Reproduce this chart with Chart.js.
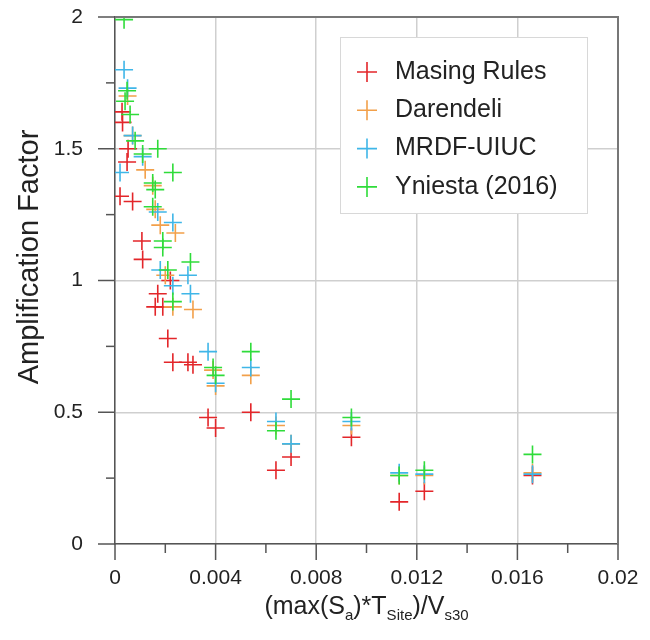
<!DOCTYPE html>
<html>
<head>
    <title>Amplification Factor</title>
    <script src="https://cdn.jsdelivr.net/npm/chart.js"></script>
    <style>
        body { margin: 0; background: #fff; }
        #wrap { width: 650px; height: 640px; }
    </style>
</head>
<body>
<div id="wrap"><canvas id="ampChart"></canvas></div>
<script>
    // series
    const seriesNames = ['Masing Rules', 'Darendeli', 'MRDF-UIUC', 'Yniesta (2016)'];
    const seriesColors = ['#e3262a', '#f2a04a', '#3fb6e8', '#2fdc3a'];

    const masingX = [0.00028, 0.0003, 0.00052, 0.00048, 0.0002, 0.0007, 0.00107, 0.0011, 0.0022, 0.0017, 0.0016, 0.0019, 0.0021, 0.0023, 0.0029, 0.0031, 0.0037, 0.0040, 0.0054, 0.0064, 0.0070, 0.0094, 0.0113, 0.0123, 0.0166];
    const masingY = [1.64, 1.60, 1.50, 1.45, 1.32, 1.30, 1.15, 1.08, 1.00, 0.95, 0.90, 0.90, 0.78, 0.69, 0.69, 0.68, 0.48, 0.44, 0.50, 0.28, 0.33, 0.405, 0.16, 0.20, 0.26];

    const darendeliX = [0.0005, 0.0007, 0.0012, 0.0015, 0.0016, 0.0018, 0.0024, 0.0020, 0.0023, 0.0031, 0.0039, 0.0040, 0.0054, 0.0064, 0.0070, 0.0094, 0.0113, 0.0123, 0.0166];
    const darendeliY = [1.70, 1.55, 1.42, 1.36, 1.27, 1.21, 1.18, 1.02, 0.90, 0.89, 0.66, 0.60, 0.64, 0.45, 0.38, 0.45, 0.26, 0.26, 0.27];

    const mrdfX = [0.00036, 0.0005, 0.0002, 0.0007, 0.0011, 0.0017, 0.0023, 0.0018, 0.0023, 0.0029, 0.0030, 0.0037, 0.0040, 0.0054, 0.0064, 0.0070, 0.0094, 0.0113, 0.0123, 0.0166];
    const mrdfY = [1.80, 1.73, 1.41, 1.55, 1.47, 1.26, 1.22, 1.04, 0.98, 1.02, 0.95, 0.73, 0.61, 0.67, 0.465, 0.38, 0.465, 0.27, 0.265, 0.265];

    const yniestaX = [0.00036, 0.00048, 0.0004, 0.0006, 0.0008, 0.0017, 0.0011, 0.0023, 0.0015, 0.0016, 0.0015, 0.0019, 0.0019, 0.0030, 0.0021, 0.0023, 0.0039, 0.0040, 0.0054, 0.0064, 0.0070, 0.0094, 0.0113, 0.0123, 0.0166];
    const yniestaY = [1.99, 1.72, 1.68, 1.63, 1.53, 1.50, 1.48, 1.41, 1.37, 1.345, 1.28, 1.15, 1.125, 1.07, 1.04, 0.92, 0.67, 0.64, 0.73, 0.43, 0.55, 0.48, 0.26, 0.28, 0.34];

    const xTickLabels = ['0', '0.004', '0.008', '0.012', '0.016', '0.02'];
    const yTickLabels = ['0', '0.5', '1', '1.5', '2'];

    const FONT = "'Liberation Sans', Arial, sans-serif";

    function toPoints(xs, ys) {
        return xs.map((x, i) => ({ x: x, y: ys[i] }));
    }

    const allSeries = [
        toPoints(masingX, masingY),
        toPoints(darendeliX, darendeliY),
        toPoints(mrdfX, mrdfY),
        toPoints(yniestaX, yniestaY)
    ];

    function isMajorX(v) { return Math.abs(v / 0.004 - Math.round(v / 0.004)) < 1e-6; }
    function isMajorY(v) { return Math.abs(v / 0.5 - Math.round(v / 0.5)) < 1e-6; }

    // tick marks, frame, axis titles and legend box
    const decorations = {
        id: 'decorations',
        afterDraw(chart) {
            const ctx = chart.ctx;
            const area = chart.chartArea;
            const xs = chart.scales.x, ys = chart.scales.y;
            ctx.save();

            // tick marks outside the axes
            ctx.strokeStyle = '#555';
            ctx.lineWidth = 1.5;
            xs.ticks.forEach(t => {
                const px = xs.getPixelForValue(t.value);
                const len = isMajorX(t.value) ? 16 : 9;
                ctx.beginPath();
                ctx.moveTo(px, area.bottom);
                ctx.lineTo(px, area.bottom + len);
                ctx.stroke();
            });
            ys.ticks.forEach(t => {
                const py = ys.getPixelForValue(t.value);
                const len = isMajorY(t.value) ? 17 : 9;
                ctx.beginPath();
                ctx.moveTo(area.left, py);
                ctx.lineTo(area.left - len, py);
                ctx.stroke();
            });

            // frame top and right
            ctx.strokeStyle = '#777';
            ctx.lineWidth = 2;
            ctx.beginPath();
            ctx.moveTo(area.left, area.top);
            ctx.lineTo(area.right, area.top);
            ctx.lineTo(area.right, area.bottom);
            ctx.stroke();

            // y title
            ctx.fillStyle = '#222';
            ctx.font = '29px ' + FONT;
            ctx.textAlign = 'center';
            ctx.textBaseline = 'middle';
            ctx.save();
            ctx.translate(30, 257);
            ctx.rotate(-Math.PI / 2);
            ctx.fillText('Amplification Factor', 0, 0);
            ctx.restore();

            // x title with subscripts
            const parts = [
                ['(max(S', false], ['a', true], [')*T', false], ['Site', true], [')/V', false], ['s30', true]
            ];
            const mainFont = '25px ' + FONT, subFont = '15px ' + FONT;
            let total = 0;
            parts.forEach(p => { ctx.font = p[1] ? subFont : mainFont; total += ctx.measureText(p[0]).width; });
            let cx = (area.left + area.right) / 2 - total / 2;
            const base = 614;
            ctx.textAlign = 'left';
            ctx.textBaseline = 'alphabetic';
            parts.forEach(p => {
                ctx.font = p[1] ? subFont : mainFont;
                ctx.fillText(p[0], cx, p[1] ? base + 6 : base);
                cx += ctx.measureText(p[0]).width;
            });

            // legend
            const lx = 340, ly = 37, lw = 247, lh = 176;
            ctx.fillStyle = '#fff';
            ctx.fillRect(lx, ly, lw, lh);
            ctx.strokeStyle = '#d8d8d8';
            ctx.lineWidth = 1;
            ctx.strokeRect(lx + 0.5, ly + 0.5, lw, lh);
            chart.data.datasets.forEach((ds, i) => {
                const ry = 72 + i * 38.3;
                ctx.strokeStyle = ds.borderColor;
                ctx.lineWidth = 1.6;
                ctx.beginPath();
                ctx.moveTo(357, ry); ctx.lineTo(377, ry);
                ctx.moveTo(367, ry - 10); ctx.lineTo(367, ry + 10);
                ctx.stroke();
                ctx.fillStyle = '#222';
                ctx.font = '25px ' + FONT;
                ctx.textBaseline = 'middle';
                ctx.fillText(ds.label, 395, ry);
            });
            ctx.restore();
        }
    };

    const ctx = document.getElementById('ampChart').getContext('2d');
    const chart = new Chart(ctx, {
        type: 'scatter',
        data: {
            datasets: allSeries.map((pts, i) => ({
                label: seriesNames[i],
                data: pts,
                borderColor: seriesColors[i],
                backgroundColor: seriesColors[i],
                pointStyle: 'cross',
                pointRadius: 9,
                pointHoverRadius: 9,
                borderWidth: 1.6,
                order: 4 - i
            }))
        },
        options: {
            responsive: true,
            maintainAspectRatio: false,
            animation: false,
            layout: { padding: { left: 0, top: 17, right: 32, bottom: 0 } },
            plugins: {
                legend: { display: false },
                tooltip: { enabled: false }
            },
            scales: {
                x: {
                    type: 'linear',
                    min: 0,
                    max: 0.02,
                    afterFit: s => { s.height = 96; s.paddingLeft = 0; s.paddingRight = 0; },
                    border: { display: true, color: '#555', width: 1.5 },
                    grid: {
                        drawTicks: false,
                        color: c => (c.tick && isMajorX(c.tick.value)) ? '#cfcfcf' : 'rgba(0,0,0,0)',
                        lineWidth: 1.5
                    },
                    ticks: {
                        stepSize: 0.002,
                        padding: 22,
                        color: '#222',
                        font: { family: FONT, size: 21 },
                        maxRotation: 0,
                        autoSkip: false,
                        callback: v => isMajorX(v) ? xTickLabels[Math.round(v / 0.004)] : ''
                    }
                },
                y: {
                    min: 0,
                    max: 2,
                    afterFit: s => { s.width = 115; s.paddingTop = 0; s.paddingBottom = 0; },
                    border: { display: true, color: '#555', width: 1.5 },
                    grid: {
                        drawTicks: false,
                        color: c => (c.tick && isMajorY(c.tick.value)) ? '#cfcfcf' : 'rgba(0,0,0,0)',
                        lineWidth: 1.5
                    },
                    ticks: {
                        stepSize: 0.25,
                        padding: 32,
                        color: '#222',
                        font: { family: FONT, size: 21 },
                        autoSkip: false,
                        callback: v => isMajorY(v) ? yTickLabels[Math.round(v / 0.5)] : ''
                    }
                }
            }
        },
        plugins: [decorations]
    });
</script>
</body>
</html>
